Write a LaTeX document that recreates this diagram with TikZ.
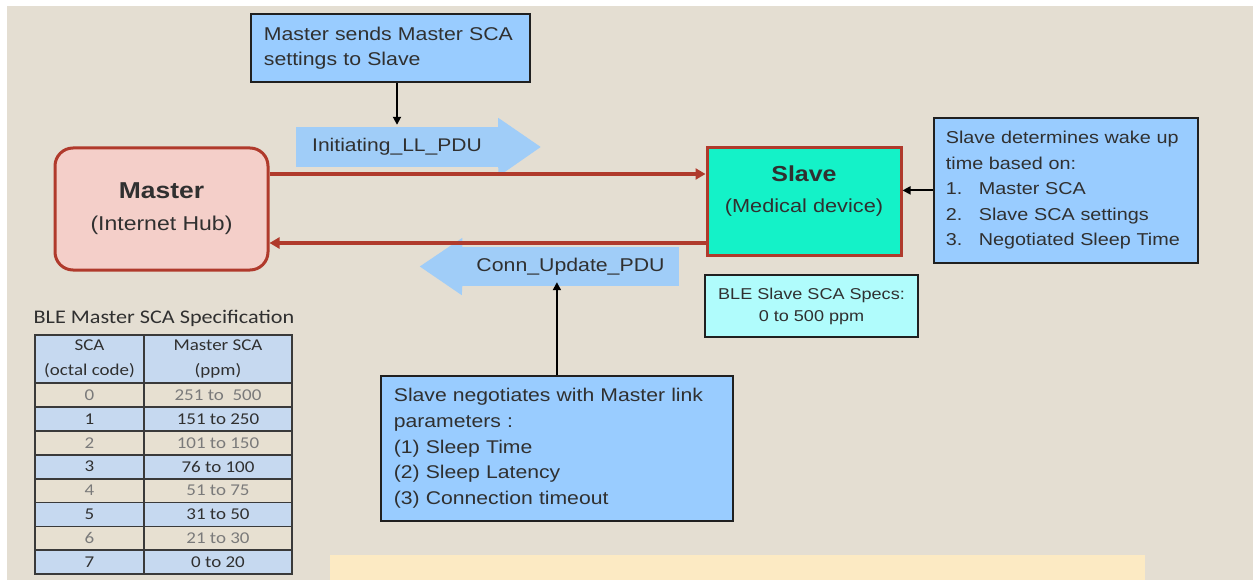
\documentclass[tikz,border=0pt]{standalone}
\usepackage{fontspec}
\setmainfont{Liberation Sans}[FakeStretch=1.15]
\newfontfamily\tblfont{Carlito}[FakeStretch=1.15]
\usetikzlibrary{arrows.meta}
\definecolor{bg}{HTML}{E4DED2}
\definecolor{boxblue}{HTML}{99CCFF}
\definecolor{boxline}{HTML}{202020}
\definecolor{pdublue}{HTML}{A0CDF8}
\definecolor{masterfill}{HTML}{F4CFC9}
\definecolor{redl}{HTML}{B03A2C}
\definecolor{slavefill}{HTML}{14F2C8}
\definecolor{specfill}{HTML}{B0FCFC}
\definecolor{tblue}{HTML}{C6D9F0}
\definecolor{tbeige}{HTML}{E7E0D1}
\definecolor{tline}{HTML}{3A3A3A}
\definecolor{tgray}{HTML}{7A7A7A}
\definecolor{tdark}{HTML}{303030}
\definecolor{yel}{HTML}{FCEAC3}
\newcommand\myfs[2]{\fontsize{#1}{#2}\selectfont}
\begin{document}
\begin{tikzpicture}[x=1pt,y=-1pt,
  bluebox/.style={draw=boxline, line width=1.8pt, fill=boxblue, inner xsep=13pt, inner ysep=0pt, align=left, anchor=north west, text=tdark},
  pdubody/.style={fill=pdublue, inner sep=0pt, text=tdark},
  redline/.style={draw=redl, line width=3.2pt, -{Triangle[length=10pt,width=11pt]}},
  blkarrow/.style={draw=black, line width=1.8pt, -{Triangle[length=8pt,width=8pt]}},
  cell/.style={draw=tline, line width=1.8pt, inner sep=0pt, minimum height=23.9pt, font=\tblfont\myfs{16.5}{20}},
]
\useasboundingbox (0,0) rectangle (1253,580);
\fill[white] (0,0) rectangle (1253,580);
\fill[bg] (7,6) rectangle (1253,580);
\fill[yel] (330,555) rectangle (1145,580);

% top box
\node[bluebox, text width=253pt, minimum height=68pt, font=\myfs{18.5}{25}] (top) at (250,13)
  {Master sends Master SCA\\settings to Slave};

% Initiating PDU arrow
\node[pdubody, minimum width=203pt, minimum height=40pt, font=\myfs{18.3}{22}] (init) at (397,147)
  {Initiating\_LL\_PDU};
\fill[pdublue] ([xshift=-0.5pt]init.north east) -- ++(0,-9) -- ([xshift=42pt]init.east) -- ([yshift=-9pt]init.south east) -- ([xshift=-0.5pt]init.south east) -- cycle;
\draw[blkarrow] (top.south -| init.north) -- ([yshift=2pt]init.north);

% Conn update PDU arrow
\node[pdubody, minimum width=217pt, minimum height=39pt, font=\myfs{18.5}{22}] (conn) at (570.5,266.5)
  {Conn\_Update\_PDU};
\fill[pdublue] ([xshift=0.5pt]conn.north west) -- ++(0,-9) -- ([xshift=-42pt]conn.west) -- ([yshift=-9pt]conn.south west) -- ([xshift=0.5pt]conn.south west) -- cycle;

% Master
\node[draw=redl, line width=3pt, fill=masterfill, rounded corners=18pt, minimum width=213pt, minimum height=122pt, align=center, text=tdark, font=\myfs{20}{32}] (master) at (161.5,209)
  {{\myfs{23}{32}\textbf{Master}}\\(Internet Hub)};

% Slave
\node[draw=redl, line width=3pt, fill=slavefill, minimum width=194pt, minimum height=107pt,
  label={[align=center, yshift=10pt, text=tdark, font=\myfs{18.9}{31}]center:{{\myfs{21.7}{31}\textbf{Slave}}\\(Medical device)}}] (slave) at (804,201.5) {};

% red connectors
\coordinate (mu) at ([yshift=35pt]master.east);
\coordinate (ml) at ([yshift=-34pt]master.east);
\draw[redline] (mu) -- (mu -| slave.west);
\draw[redline] (ml -| slave.west) -- (ml);

% right box
\node[bluebox, inner xsep=12pt, text width=240pt, minimum height=145pt, font=\myfs{17.2}{25.5}] (rbox) at (933,117)
  {Slave determines wake up\\time based on:\\
   \makebox[33pt][l]{1.}Master SCA\\
   \makebox[33pt][l]{2.}Slave SCA settings\\
   \makebox[33pt][l]{3.}Negotiated Sleep Time};
\draw[blkarrow] (rbox.west) -- (rbox.west -| slave.east);

% slave specs
\node[draw=boxline, line width=1.6pt, fill=specfill, minimum width=213pt, minimum height=62pt, align=center, text=tdark, font=\myfs{15.7}{22}] (spec) at (811.5,306)
  {BLE Slave SCA Specs:\\0 to 500 ppm};

% bottom box
\node[bluebox, text width=326pt, minimum height=145pt, font=\myfs{18.4}{25.8}] (bbox) at (380,375)
  {Slave negotiates with Master link\\parameters :\\(1) Sleep Time\\(2) Sleep Latency\\(3) Connection timeout};
\draw[blkarrow, shorten >=-4pt] (bbox.north) -- (bbox.north |- conn.south);

% table
\node[font=\tblfont\myfs{19.3}{22}, text=tdark, inner sep=0pt] (ttitle) at (164,318) {BLE Master SCA Specification};
\node[cell, minimum width=109pt, minimum height=48pt, fill=tblue, align=center, text=tdark, font=\tblfont\myfs{16.5}{25}] (ha) at (89.5,359) {SCA\\(octal code)};
\node[cell, minimum width=148pt, minimum height=48pt, fill=tblue, align=center, text=tdark, font=\tblfont\myfs{16.5}{25}] (hb) at (218,359) {Master SCA\\(ppm)};
\foreach \i/\b in {0/251 to\ \ 500,1/151 to 250,2/101 to 150,3/76 to 100,4/51 to 75,5/31 to 50,6/21 to 30,7/0 to 20}{
  \pgfmathsetmacro\yc{383+23.9*\i+11.95}
  \ifodd\i \def\rowfill{tblue}\def\rowtext{tdark}\else\def\rowfill{tbeige}\def\rowtext{tgray}\fi
  \node[cell, minimum width=109pt, fill=\rowfill, text=\rowtext] (a\i) at (89.5,\yc) {\i};
  \node[cell, minimum width=148pt, fill=\rowfill, text=\rowtext] (b\i) at (218,\yc) {\b};
}
\end{tikzpicture}
\end{document}
